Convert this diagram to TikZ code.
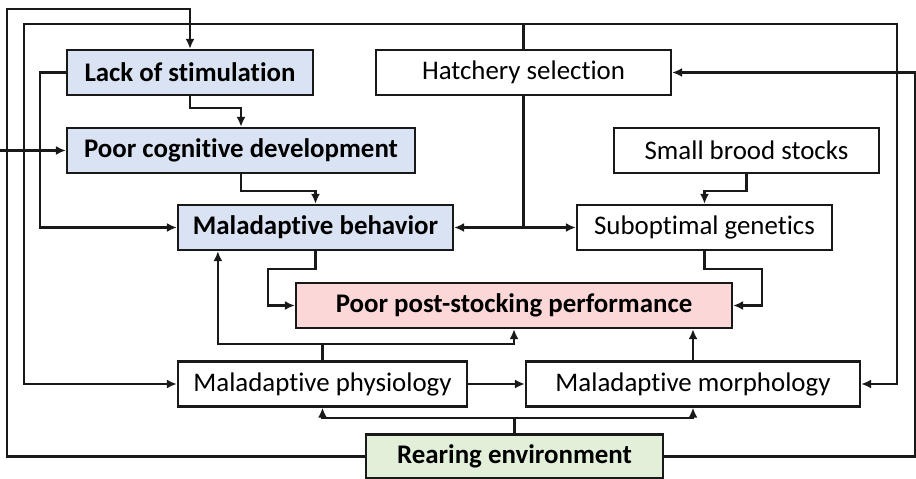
\documentclass[tikz,border=0pt]{standalone}
\usepackage{fontspec}
\setmainfont{Carlito}[Ligatures={NoCommon,NoRequired,NoContextual}]
\usepackage{tikz}
\usetikzlibrary{arrows.meta,positioning}

\definecolor{causeblue}{HTML}{DAE3F3}
\definecolor{outcomered}{HTML}{FCD7D7}
\definecolor{sourcegreen}{HTML}{E2F0D9}

\begin{document}
\begin{tikzpicture}[
        x=0.02cm, y=-0.02cm,
        factor/.style={
            rectangle, draw = black!90, line width = 1.3pt, fill = white,
            inner sep = 0pt, minimum height = 0.9cm,
            font = \fontsize{15.3}{17}\selectfont
        },
        keyfactor/.style={
            factor, fill = causeblue, font = \fontsize{15.3}{17}\selectfont\bfseries
        },
        link/.style={
            line width = 1.2pt, draw = black!90, -{Latex[length=2mm,width=1.8mm]}
        },
    ]
    \useasboundingbox (0,0) rectangle (916,479);

    \node (lack) [keyfactor, minimum width=4.92cm] at (190,72.5) {Lack of stimulation};
    \node (hatch) [factor, minimum width=5.9cm] at (523.5,72.5) {Hatchery selection};
    \node (cogn) [keyfactor, minimum width=6.96cm] at (241,150.5) {Poor cognitive development};
    \node (brood) [factor, minimum width=5.3cm] at (746.5,150.5) {Small brood stocks};
    \node (behav) [keyfactor, minimum width=5.5cm] at (315.5,227.5) {Maladaptive behavior};
    \node (genet) [factor, minimum width=5.1cm] at (704.5,227.5) {Suboptimal genetics};
    \node (perf) [keyfactor, fill=outcomered, minimum width=8.72cm] at (514,305.5) {Poor post-stocking performance};
    \node (physio) [factor, minimum width=5.78cm] at (322.5,384) {Maladaptive physiology};
    \node (morph) [factor, minimum width=6.68cm] at (693,384) {Maladaptive morphology};
    \node (rear) [keyfactor, fill=sourcegreen, minimum width=5.94cm, minimum height=0.88cm] at (514.5,456.5) {Rearing environment};

    % outer loops
    \coordinate (leftin) at (0,150.5);
    \path (rear.west) edge[link, to path={-| (7,9) -| (\tikztotarget)}] (lack.north);
    \path (leftin) edge[link] (cogn.west);
    \path (rear.east) edge[link, to path={-| (915,72.5) -- (\tikztotarget)}] (hatch.east);
    \path (hatch.north) edge[link, to path={|- (24,24) |- (\tikztotarget)}] (physio.west);
    \path (hatch.north) edge[link, to path={|- (897,24) |- (\tikztotarget)}] (morph.east);

    % left column
    \path (lack.west) edge[link, to path={-| (40,150) |- (\tikztotarget)}] (behav.west);
    \path (lack.south) edge[link, to path={-- ++(0,12) -| (\tikztotarget)}] (cogn.north);
    \path (cogn.south) edge[link, to path={-- ++(0,17) -| (\tikztotarget)}] (behav.north);

    % right column
    \path (hatch.south) edge[link, to path={|- (\tikztotarget)}] (behav.east);
    \path (hatch.south) edge[link, to path={|- (\tikztotarget)}] (genet.west);
    \path (brood.south) edge[link, to path={-- ++(0,17) -| (\tikztotarget)}] (genet.north);

    % into performance
    \path (genet.south) edge[link, to path={-- ++(0,18) -| (762,305.5) -- (\tikztotarget)}] (perf.east);
    \path (behav.south) edge[link, to path={-- ++(0,18) -| (268,305.5) -- (\tikztotarget)}] (perf.west);
    \path (physio.north) edge[link, to path={-- ++(0,-16) -| (\tikztotarget)}] ([xshift=0.82cm]behav.south west);
    \path (physio.north) edge[link, to path={-- ++(0,-16) -| (\tikztotarget)}] (perf.south);
    \path (physio.east) edge[link] (morph.west);
    \path (morph.north) edge[link] (morph.north |- perf.south);

    % rearing environment
    \path (rear.north) edge[link, to path={-- ++(0,-15) -| (\tikztotarget)}] (physio.south);
    \path (rear.north) edge[link, to path={-- ++(0,-15) -| (\tikztotarget)}] (morph.south);

    \end{tikzpicture}
\end{document}
